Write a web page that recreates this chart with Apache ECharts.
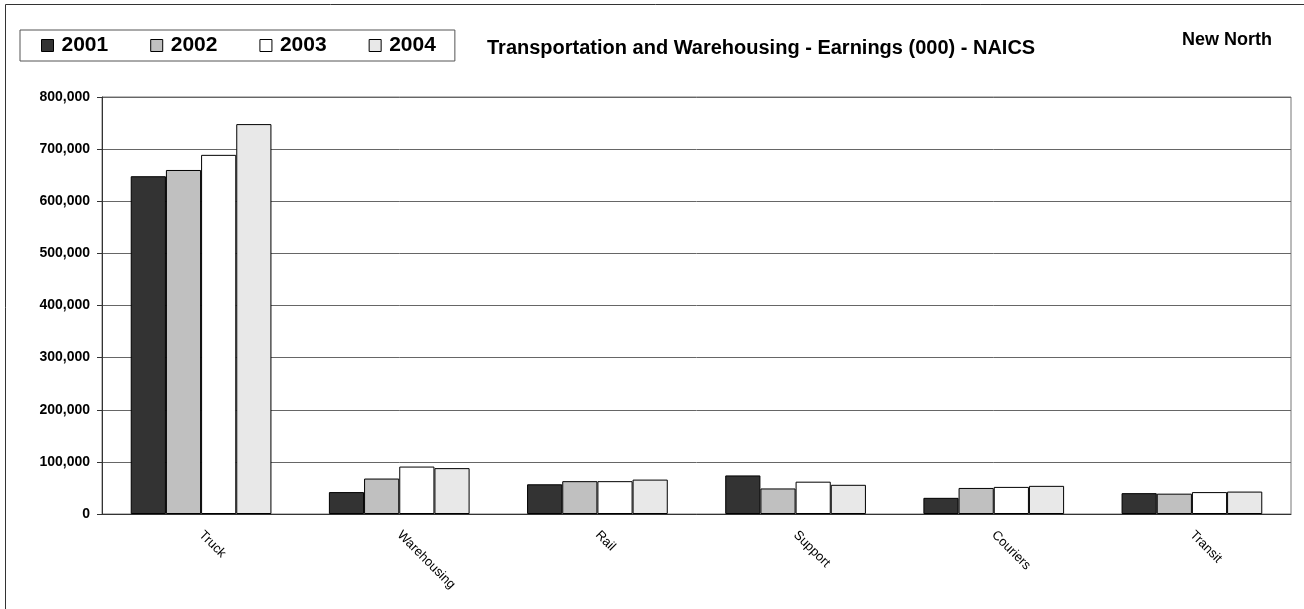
<!DOCTYPE html>
<html>
<head>
<meta charset="utf-8">
<title>ECharts</title>
<script src="https://cdn.jsdelivr.net/npm/echarts@6/dist/echarts.min.js"></script>
<style>
  html, body { margin: 0; padding: 0; background: #fff; }
  #main { width: 1304px; height: 609px; }
</style>
</head>
<body>
<div id="main"></div>
<script type="text/javascript">
var categories = ['Truck', 'Warehousing', 'Rail', 'Support', 'Couriers', 'Transit'];
var years = ['2001', '2002', '2003', '2004'];
var v2001 = [648000, 42000, 57000, 74000, 31000, 40000];
var v2002 = [660000, 68000, 63000, 49000, 50000, 39000];
var v2003 = [689000, 91000, 63000, 62000, 52000, 42000];
var v2004 = [748000, 88000, 66000, 56000, 54000, 43000];
var colors = ['#333333', '#c0c0c0', '#ffffff', '#e8e8e8'];
var titleText = 'Transportation and Warehousing - Earnings (000) - NAICS';
var regionText = 'New North';

var myChart = echarts.init(document.getElementById('main'));

function bar(name, data, color) {
    return {
        name: name,
        type: 'bar',
        data: data,
        barGap: '0%',
        barCategoryGap: '29%',
        itemStyle: { color: color, borderColor: '#000', borderWidth: 1 }
    };
}

var font = 'Liberation Sans, Arial, sans-serif';

var option = {
    animation: false,
    textStyle: { fontFamily: font },
    title: [{
        text: titleText,
        left: 487, top: 38,
        padding: 0,
        textStyle: { fontSize: 20, fontWeight: 'bold', color: '#000' }
    }, {
        text: regionText,
        left: 1182, top: 31,
        padding: 0,
        textStyle: { fontSize: 18, fontWeight: 'bold', color: '#000' }
    }],
    legend: {
        data: years,
        left: 20, top: 30,
        padding: [5, 19, 5, 21],
        itemGap: 42,
        itemWidth: 12, itemHeight: 12,
        borderColor: '#555', borderWidth: 1,
        icon: 'rect',
        itemStyle: { borderColor: '#000', borderWidth: 1 },
        textStyle: { fontSize: 21, fontWeight: 'bold', color: '#000', padding: [0, 0, 0, 3] }
    },
    graphic: [{
        type: 'rect',
        shape: { x: 5.5, y: 4.5, width: 1310, height: 620 },
        style: { fill: 'none', stroke: '#333', lineWidth: 1 },
        silent: true
    }],
    grid: {
        left: 102, right: 13, top: 97, bottom: 95,
        show: true, borderColor: '#777', borderWidth: 1
    },
    xAxis: {
        type: 'category',
        data: categories,
        axisLine: { lineStyle: { color: '#333' } },
        axisTick: { show: false },
        axisLabel: { rotate: -45, color: '#000', fontSize: 13, margin: 19 }
    },
    yAxis: {
        type: 'value',
        min: 0, max: 800000, interval: 100000,
        axisLine: { show: true, lineStyle: { color: '#333' } },
        axisTick: { show: true, length: 5, lineStyle: { color: '#333' } },
        splitLine: { lineStyle: { color: '#666' } },
        axisLabel: {
            color: '#000', fontSize: 14, fontWeight: 'bold', margin: 12,
            formatter: function (v) { return v.toLocaleString('en-US'); }
        }
    },
    series: [
        bar(years[0], v2001, colors[0]),
        bar(years[1], v2002, colors[1]),
        bar(years[2], v2003, colors[2]),
        bar(years[3], v2004, colors[3])
    ]
};
myChart.setOption(option);
</script>
</body>
</html>
